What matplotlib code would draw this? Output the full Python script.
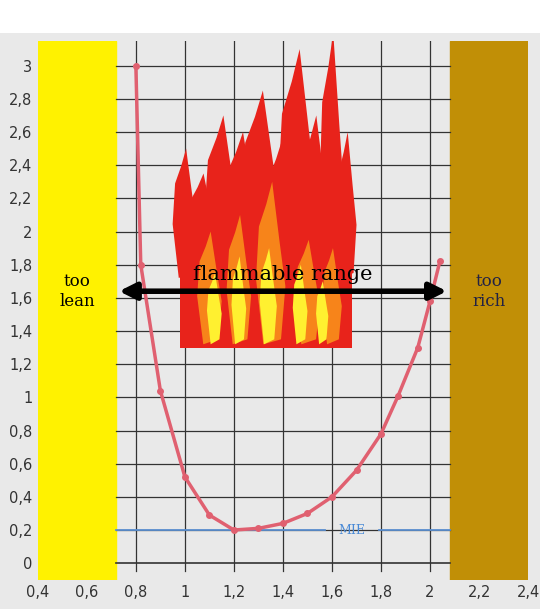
import matplotlib
matplotlib.use("Agg")
import matplotlib.pyplot as plt
import numpy as np

x_vals = [0.8, 0.82, 0.9, 1.0, 1.1, 1.2, 1.3, 1.4, 1.5, 1.6, 1.7, 1.8, 1.87, 1.95, 2.0, 2.04]
y_vals = [3.0, 1.8, 1.04, 0.52, 0.29, 0.2, 0.21, 0.24, 0.3, 0.4, 0.56, 0.78, 1.01, 1.3, 1.58, 1.82]
xticks = [0.4, 0.6, 0.8, 1.0, 1.2, 1.4, 1.6, 1.8, 2.0, 2.2, 2.4]
xtick_labels = ["0,4", "0,6", "0,8", "1", "1,2", "1,4", "1,6", "1,8", "2", "2,2", "2,4"]
yticks = [0, 0.2, 0.4, 0.6, 0.8, 1.0, 1.2, 1.4, 1.6, 1.8, 2.0, 2.2, 2.4, 2.6, 2.8, 3.0]
ytick_labels = ["0", "0,2", "0,4", "0,6", "0,8", "1", "1,2", "1,4", "1,6", "1,8", "2", "2,2", "2,4", "2,6", "2,8", "3"]

fig = plt.figure(figsize=(5.4, 6.09), dpi=100, facecolor="white")
bg = fig.add_axes([0, 0, 1, 0.945]); bg.axis("off")
bg.add_patch(plt.Rectangle((0, 0), 1, 1, color="#e9e9e9", transform=bg.transAxes))
ax = fig.add_axes([0.07, 0.048, 0.908, 0.885])
ax.set_xlim(0.4, 2.4); ax.set_ylim(-0.1, 3.15)
ax.set_facecolor("#e9e9e9")
for s in ax.spines.values(): s.set_visible(False)
lo, hi = 0.72, 2.08
ax.axvspan(0.4, lo, color="#fff200", zorder=1)
ax.axvspan(hi, 2.4, color="#c18f06", zorder=1)
for yv in yticks:
    ax.plot([lo, hi], [yv, yv], color="#333333", lw=1.2 if yv == 0 else 0.9, zorder=2)
for xv in xticks[2:9]:
    ax.plot([xv, xv], [-0.05, 3.15], color="#333333", lw=0.9, zorder=2)

# flames (decorative tongues)
def tongues(centers, widths, base, heights, color, z):
    for c, w, h in zip(centers, widths, heights):
        px = [c - w, c - w * 0.8, c - w * 0.3, c + w * 0.1, c + w * 0.6, c + w, c + w * 0.7, c - w * 0.5]
        py = [base + h * 0.35, base + h * 0.7, base + h * 0.85, base + h, base + h * 0.6, base + h * 0.3, base - 0.05, base - 0.08]
        ax.fill(px, py, color=color, zorder=z, lw=0)
red_c = [1.0, 1.07, 1.15, 1.23, 1.31, 1.39, 1.46, 1.53, 1.6, 1.66]
ax.fill([0.98, 1.68, 1.68, 0.98], [1.3, 1.3, 2.1, 2.1], color="#e8231b", zorder=3, lw=0)
tongues(red_c, [0.05, 0.06, 0.07, 0.07, 0.08, 0.06, 0.08, 0.06, 0.05, 0.04], 1.8,
        [0.7, 0.55, 0.9, 0.8, 1.05, 0.75, 1.3, 0.9, 1.4, 0.8], "#e8231b", 3)
tongues([1.1, 1.22, 1.35, 1.5, 1.6], [0.05, 0.05, 0.06, 0.05, 0.04], 1.4,
        [0.6, 0.7, 0.9, 0.55, 0.5], "#f7841a", 4)
tongues([1.12, 1.22, 1.34, 1.47, 1.56], [0.03, 0.03, 0.035, 0.03, 0.025], 1.4,
        [0.35, 0.45, 0.5, 0.4, 0.3], "#fff030", 5)

ax.plot([lo, 1.57], [0.2, 0.2], color="#5b8fd0", lw=1.3, zorder=3)
ax.plot([1.79, hi], [0.2, 0.2], color="#5b8fd0", lw=1.3, zorder=3)
ax.text(1.68, 0.2, "MIE", color="#4a8ad6", fontsize=9, family="DejaVu Serif", ha="center", va="center", zorder=3)

ax.plot(x_vals, y_vals, color="#e06070", lw=2.5, marker="o", ms=4, zorder=7)

ax.annotate("", xy=(hi, 1.64), xytext=(lo, 1.64),
            arrowprops=dict(arrowstyle="<|-|>", color="black", lw=4, mutation_scale=25), zorder=8)
ax.text(1.4, 1.74, "flammable range", fontsize=15, family="DejaVu Serif", ha="center", va="center", zorder=8)
ax.text(0.56, 1.64, "too\nlean", fontsize=12, family="DejaVu Serif", ha="center", va="center", zorder=8)
ax.text(2.24, 1.64, "too\nrich", fontsize=12, family="DejaVu Serif", ha="center", va="center", color="#222244", zorder=8)

ax.set_xticks(xticks, xtick_labels, fontsize=10.5, color="#333333")
ax.set_yticks(yticks, ytick_labels, fontsize=10.5, color="#333333")
ax.tick_params(length=0, pad=4)
fig.savefig("out.png", dpi=100)
